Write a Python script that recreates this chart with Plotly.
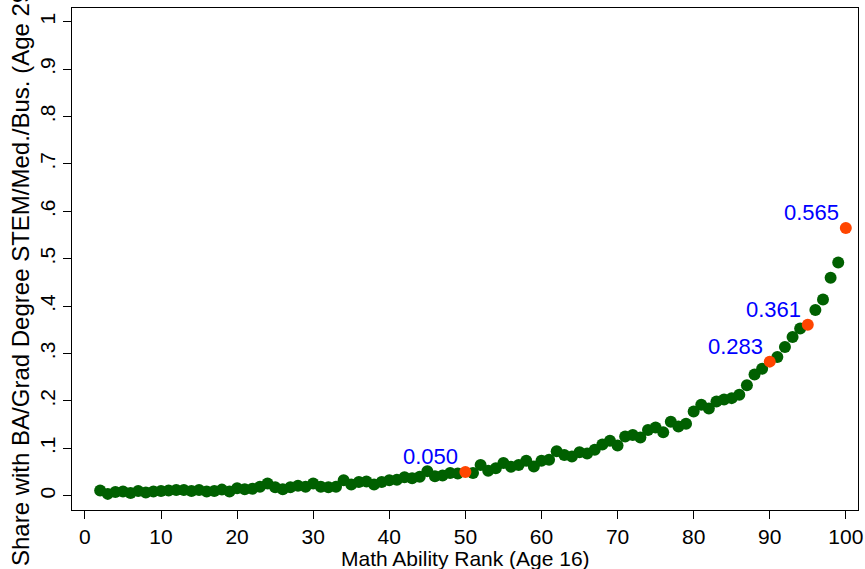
import plotly.graph_objects as go

ranks = list(range(2, 101))
share = [0.011, 0.004, 0.008, 0.009, 0.006, 0.010, 0.007, 0.009, 0.010,
         0.011, 0.012, 0.012, 0.010, 0.012, 0.009, 0.010, 0.013, 0.009, 0.016,
         0.014, 0.015, 0.019, 0.026, 0.018, 0.014, 0.018, 0.021, 0.019, 0.026,
         0.019, 0.018, 0.019, 0.033, 0.024, 0.029, 0.030, 0.024, 0.029, 0.033,
         0.034, 0.039, 0.037, 0.040, 0.052, 0.041, 0.043, 0.048, 0.047, 0.050,
         0.048, 0.065, 0.053, 0.058, 0.069, 0.061, 0.065, 0.074, 0.062, 0.074,
         0.076, 0.094, 0.086, 0.083, 0.092, 0.089, 0.097, 0.108, 0.116, 0.106,
         0.125, 0.128, 0.123, 0.139, 0.144, 0.134, 0.156, 0.146, 0.152, 0.178,
         0.192, 0.184, 0.199, 0.203, 0.206, 0.213, 0.233, 0.256, 0.268, 0.283,
         0.293, 0.314, 0.335, 0.353, 0.361, 0.392, 0.414, 0.460, 0.492, 0.565]
highlight_ranks = [50, 90, 95, 100]
highlight_labels = ["0.050", "0.283", "0.361", "0.565"]

x_ticks = list(range(0, 101, 10))
y_tickvals = [0, 0.1, 0.2, 0.3, 0.4, 0.5, 0.6, 0.7, 0.8, 0.9, 1.0]
y_ticktext = ["0", ".1", ".2", ".3", ".4", ".5", ".6", ".7", ".8", ".9", "1"]
x_title = "Math Ability Rank (Age 16)"
y_title = "Share with BA/Grad Degree STEM/Med./Bus. (Age 29)"

green_x = [r for r in ranks if r not in highlight_ranks]
green_y = [v for r, v in zip(ranks, share) if r not in highlight_ranks]
hl_y = [share[ranks.index(r)] for r in highlight_ranks]

FONT = "Liberation Sans, Arial, sans-serif"

fig = go.Figure()
fig.add_trace(go.Scatter(x=green_x, y=green_y, mode="markers",
                         marker=dict(color="#006000", size=12, line=dict(width=0)),
                         showlegend=False, hoverinfo="skip"))
fig.add_trace(go.Scatter(x=highlight_ranks, y=hl_y, mode="markers",
                         marker=dict(color="#ff4500", size=12, line=dict(width=0)),
                         showlegend=False, hoverinfo="skip"))

for xr, yv, lab in zip(highlight_ranks, hl_y, highlight_labels):
    fig.add_annotation(x=xr, y=yv, text=lab, showarrow=False,
                       xanchor="right", yanchor="bottom", xshift=-5, yshift=1,
                       font=dict(color="#0000ff", size=22, family=FONT))

# axis titles as annotations (placed like the reference)
fig.add_annotation(xref="paper", yref="paper", x=0.5, y=0, text=x_title,
                   showarrow=False, xanchor="center", yanchor="top", yshift=-35,
                   font=dict(size=21, color="black", family=FONT))
fig.add_annotation(xref="paper", yref="paper", x=0, y=0.5, text=y_title,
                   showarrow=False, textangle=-90, xanchor="center", yanchor="middle",
                   xshift=-52, yshift=-15,
                   font=dict(size=24, color="black", family=FONT))

axis_common = dict(showline=True, linecolor="black", linewidth=1, mirror=True,
                   ticks="outside", ticklen=8, tickcolor="black", tickwidth=1,
                   showgrid=False, zeroline=False, automargin=False,
                   tickfont=dict(size=21, color="black", family=FONT))

fig.update_xaxes(range=[-1.7, 101.6], tickvals=x_ticks, **axis_common)
fig.update_yaxes(range=[-0.03, 1.029], tickvals=y_tickvals, ticktext=y_ticktext,
                 tickangle=-90, **axis_common)

fig.update_layout(width=865, height=569, margin=dict(l=72, r=7, t=8, b=59),
                  plot_bgcolor="white", paper_bgcolor="white",
                  font=dict(family=FONT, color="black"))

fig.write_html("out.html")
